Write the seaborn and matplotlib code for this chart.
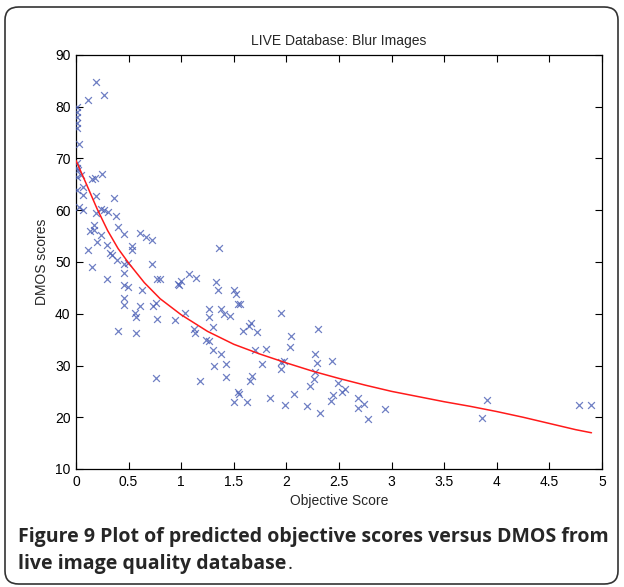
import matplotlib
matplotlib.use("Agg")
import matplotlib.pyplot as plt
import seaborn as sns
import pandas as pd
from matplotlib.patches import FancyBboxPatch

# ---- data ----
obj_score = [0.19, 0.27, 0.11, 0.01, 0.01, 0.01, 0.01, 0.01, 0.03, 0.01, 0.01, 0.02, 0.05, 0.01,
             0.15, 0.18, 0.25, 0.07, 0.01, 0.07, 0.19, 0.36, 0.03, 0.07, 0.19, 0.24, 0.27, 0.30,
             0.38, 0.17, 0.40, 0.13, 0.17, 0.24, 0.20, 0.11, 0.29, 0.32, 0.34, 0.39, 0.46, 0.46,
             0.49, 0.53, 0.53, 0.61, 0.67, 0.72, 0.15, 0.29, 0.46, 0.46, 0.49, 0.72, 0.63, 0.46,
             0.46, 0.61, 0.56, 0.57, 0.77, 0.80, 0.76, 0.73, 0.77, 0.94, 0.40, 0.57, 0.76, 0.97,
             1.36, 1.07, 1.14, 1.00, 0.98, 1.33, 1.35, 1.50, 1.52, 1.54, 1.56, 1.04, 1.26, 1.26,
             1.38, 1.41, 1.46, 1.95, 1.66, 1.64, 1.59, 1.72, 1.12, 1.13, 1.30, 1.24, 1.26, 2.04,
             2.03, 1.30, 1.38, 1.70, 1.81, 1.31, 1.43, 1.77, 1.95, 1.98, 1.95, 1.43, 1.67, 1.65,
             1.18, 1.54, 1.55, 1.50, 1.63, 1.84, 2.07, 1.99, 2.30, 2.27, 2.29, 2.43, 2.27, 2.26,
             2.22, 2.49, 2.56, 2.53, 2.44, 2.42, 2.20, 2.32, 2.68, 2.74, 2.68, 2.94, 2.78, 3.91,
             3.86, 4.78, 4.90]
dmos = [84.7, 82.3, 81.3, 80.0, 79.0, 78.1, 76.9, 75.9, 72.8, 69.1, 68.2, 67.8, 66.8, 66.4,
        66.0, 66.2, 67.1, 64.5, 63.9, 62.9, 62.8, 62.4, 60.7, 60.0, 59.4, 60.2, 60.0, 59.7,
        58.8, 57.1, 56.8, 55.9, 56.1, 55.2, 53.9, 52.3, 53.3, 51.8, 51.4, 50.3, 55.4, 49.7,
        49.9, 53.1, 52.4, 55.7, 54.9, 54.3, 49.1, 46.7, 47.9, 45.5, 45.2, 49.7, 44.5, 43.0,
        41.7, 41.5, 40.1, 39.4, 46.7, 46.7, 42.1, 41.5, 39.0, 38.7, 36.7, 36.3, 27.5, 45.8,
        52.8, 47.7, 47.0, 46.4, 45.5, 46.1, 44.6, 44.5, 43.8, 41.9, 41.9, 40.2, 40.9, 39.3,
        41.0, 39.9, 39.6, 40.2, 38.3, 37.6, 36.7, 36.4, 37.0, 36.3, 37.4, 34.9, 34.8, 35.7,
        33.6, 32.9, 32.2, 32.9, 33.2, 29.9, 30.3, 30.3, 30.7, 30.9, 29.3, 27.8, 28.0, 27.1,
        27.1, 24.9, 24.5, 23.0, 23.0, 23.8, 24.5, 22.4, 37.1, 32.2, 30.5, 30.8, 28.8, 27.3,
        26.0, 26.7, 25.4, 24.9, 24.3, 23.2, 22.2, 20.8, 23.7, 22.6, 21.8, 21.5, 19.6, 23.3,
        19.8, 22.4, 22.4]

fit_x = [0, 0.1, 0.2, 0.3, 0.4, 0.5, 0.65, 0.8, 1.0, 1.25, 1.5, 1.75, 2.0, 2.25, 2.5, 2.75,
         3.0, 3.25, 3.5, 3.75, 4.0, 4.25, 4.5, 4.75, 4.9]
fit_y = [69.6, 65.0, 60.3, 56.1, 52.6, 49.8, 46.0, 42.9, 39.8, 36.6, 34.1, 32.2, 30.5, 28.9,
         27.5, 26.2, 25.0, 24.0, 23.0, 22.1, 21.1, 20.0, 18.8, 17.6, 17.0]

x_ticks = [0, 0.5, 1, 1.5, 2, 2.5, 3, 3.5, 4, 4.5, 5]
x_tick_labels = ["0", "0.5", "1", "1.5", "2", "2.5", "3", "3.5", "4", "4.5", "5"]
y_ticks = [10, 20, 30, 40, 50, 60, 70, 80, 90]

title = "LIVE Database: Blur Images"
xlabel = "Objective Score"
ylabel = "DMOS scores"

# ---- plotting ----
sns.set_theme(style="ticks")
plt.rcParams['font.family'] = ['Liberation Sans', 'DejaVu Sans']

W, H = 624, 587
fig = plt.figure(figsize=(W / 100, H / 100), dpi=100)
ax = fig.add_axes([76 / W, 1 - 469 / H, (602 - 76) / W, (469 - 55) / H])

pts = pd.DataFrame({"x": obj_score, "y": dmos})
fit = pd.DataFrame({"x": fit_x, "y": fit_y})

sns.scatterplot(data=pts, x="x", y="y", marker="x", s=24, color="#4a5fb5",
                linewidth=0.9, alpha=0.8, ax=ax, zorder=3)
sns.lineplot(data=fit, x="x", y="y", color="#ff1a1a", linewidth=1.1, ax=ax,
             sort=True, zorder=4)

ax.set_xlim(0, 5)
ax.set_ylim(10, 90)
ax.set_xticks(x_ticks)
ax.set_xticklabels(x_tick_labels)
ax.set_yticks(y_ticks)
ax.tick_params(direction="in", length=5, width=0.8, top=True, right=True,
               labelsize=10, colors="black", pad=4)
for s in ax.spines.values():
    s.set_visible(True)
    s.set_linewidth(0.9)
    s.set_color("black")

ax.set_title(title, fontsize=10, pad=7)
ax.set_xlabel(xlabel, fontsize=10, labelpad=4)
ax.set_ylabel(ylabel, fontsize=10, labelpad=4)

# rounded frame around the whole figure
frame = FancyBboxPatch((5 / W, 3 / H), (618 - 5) / W, (580 - 3) / H,
                       boxstyle="round,pad=0,rounding_size=0.022",
                       transform=fig.transFigure, fill=False,
                       edgecolor="#333333", linewidth=1.2)
fig.patches.append(frame)

# caption
cap_font = ['Open Sans', 'DejaVu Sans']
cap_size = 14.0
fig.text(18 / W, 1 - 537 / H,
         "Figure 9 Plot of predicted objective scores versus DMOS from",
         fontsize=cap_size, fontweight="bold", family=cap_font, va="center", ha="left")
t2 = fig.text(18 / W, 1 - 564 / H, "live image quality database",
              fontsize=cap_size, fontweight="bold", family=cap_font, va="center", ha="left")
fig.canvas.draw()
bb = t2.get_window_extent()
fig.text((bb.x1 + 1) / W, 1 - 564 / H, ".", fontsize=cap_size, family=cap_font,
         va="center", ha="left")

fig.savefig("out.png", dpi=100)
